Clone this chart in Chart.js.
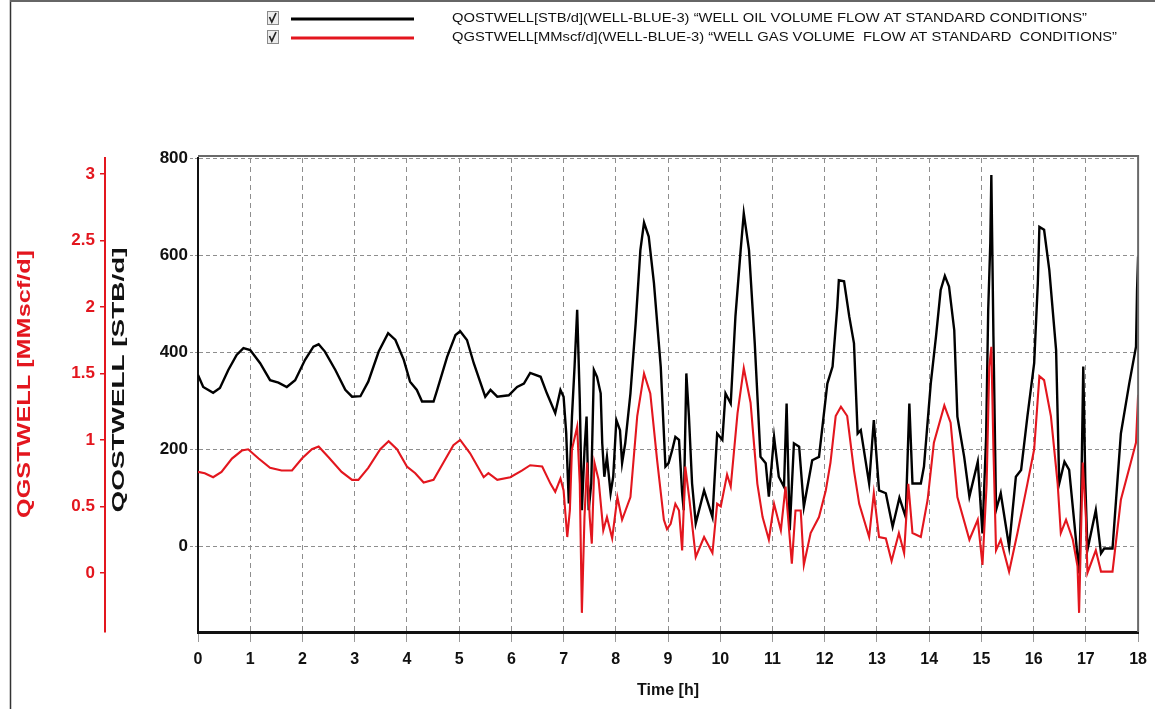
<!DOCTYPE html>
<html>
<head>
<meta charset="utf-8">
<title>Well oil and gas volume flow</title>
<style>
  html, body { margin: 0; padding: 0; background: #ffffff; }
  #wrap { width: 1155px; height: 709px; position: relative; }
  canvas { display: block; }
</style>
<script src="https://cdn.jsdelivr.net/npm/chart.js@4.4.1/dist/chart.umd.min.js"></script>
</head>
<body>
<div id="wrap"><canvas id="chart" width="1155" height="709"></canvas></div>
<script>
// ---- series: well oil rate (STB/d) ----
const oilHours = [
  0.00, 0.10, 0.29, 0.42, 0.58, 0.74, 0.87, 1.00, 1.19, 1.38, 1.54, 1.70, 1.86, 2.05, 2.21, 2.31,
  2.43, 2.63, 2.82, 2.95, 3.11, 3.26, 3.46, 3.64, 3.78, 3.94, 4.06, 4.19, 4.29, 4.51, 4.58, 4.77,
  4.93, 5.02, 5.15, 5.28, 5.50, 5.60, 5.73, 5.95, 6.11, 6.24, 6.36, 6.56, 6.68, 6.84, 6.94, 7.00,
  7.05, 7.10, 7.16, 7.21, 7.26, 7.31, 7.35, 7.40, 7.44, 7.48, 7.53, 7.58, 7.64, 7.71, 7.74, 7.78,
  7.83, 7.90, 7.95, 8.01, 8.08, 8.12, 8.18, 8.28, 8.38, 8.47, 8.54, 8.63, 8.73, 8.86, 8.95, 9.01,
  9.08, 9.14, 9.21, 9.27, 9.30, 9.35, 9.40, 9.46, 9.53, 9.69, 9.85, 9.94, 10.04, 10.10, 10.20, 10.29,
  10.39, 10.45, 10.55, 10.66, 10.77, 10.87, 10.93, 11.03, 11.12, 11.22, 11.27, 11.33, 11.41, 11.51, 11.60, 11.76,
  11.89, 12.05, 12.15, 12.24, 12.27, 12.37, 12.47, 12.56, 12.63, 12.69, 12.85, 12.94, 13.04, 13.17, 13.30, 13.43,
  13.55, 13.62, 13.68, 13.84, 13.90, 14.03, 14.13, 14.22, 14.30, 14.38, 14.48, 14.54, 14.67, 14.77, 14.93, 15.02,
  15.09, 15.13, 15.17, 15.19, 15.23, 15.28, 15.37, 15.53, 15.66, 15.76, 15.88, 16.01, 16.08, 16.11, 16.20, 16.30,
  16.43, 16.49, 16.59, 16.68, 16.78, 16.87, 16.91, 16.95, 16.99, 17.03, 17.19, 17.29, 17.35, 17.51, 17.67, 17.83,
  17.96, 17.98, 18.00
];
const oilRate = [
  353, 328, 316, 326, 363, 394, 408, 404, 377, 342, 337, 328, 342, 384, 411, 416,
  401, 363, 322, 308, 309, 339, 401, 439, 425, 384, 339, 322, 298, 298, 322, 390,
  435, 443, 425, 377, 308, 322, 308, 311, 328, 335, 357, 349, 315, 274, 322, 308,
  233, 88, 267, 370, 487, 301, 74, 198, 267, 74, 129, 363, 349, 315, 212, 143,
  184, 109, 143, 260, 239, 171, 212, 315, 459, 610, 667, 638, 542, 370, 164, 171,
  198, 225, 219, 109, 74, 356, 267, 129, 47, 115, 60, 232, 219, 315, 294, 473,
  610, 686, 610, 418, 184, 171, 102, 225, 143, 122, 294, 33, 212, 205, 81, 177,
  184, 335, 370, 493, 548, 546, 473, 418, 232, 239, 129, 260, 115, 109, 40, 100,
  60, 294, 129, 129, 164, 335, 432, 528, 557, 535, 445, 267, 184, 102, 174, 26,
  225, 487, 624, 765, 432, 74, 109, -1, 143, 157, 267, 377, 542, 658, 652, 569,
  404, 129, 174, 157, 47, -56, 95, 370, 129, -8, 74, -15, -5, -5, 232, 335,
  411, 528, 597
];

// ---- series: well gas rate (MMscf/d) ----
const gasHours = [
  0.00, 0.13, 0.29, 0.45, 0.65, 0.84, 0.96, 1.16, 1.38, 1.60, 1.80, 1.99, 2.18, 2.31, 2.50, 2.75,
  2.95, 3.07, 3.26, 3.49, 3.65, 3.81, 4.00, 4.16, 4.32, 4.51, 4.70, 4.89, 5.02, 5.21, 5.47, 5.56,
  5.73, 5.98, 6.20, 6.36, 6.59, 6.75, 6.84, 6.94, 7.00, 7.07, 7.12, 7.16, 7.26, 7.31, 7.35, 7.40,
  7.45, 7.50, 7.54, 7.59, 7.67, 7.76, 7.83, 7.93, 8.03, 8.12, 8.28, 8.41, 8.54, 8.66, 8.79, 8.92,
  8.98, 9.05, 9.14, 9.21, 9.27, 9.33, 9.41, 9.53, 9.69, 9.85, 9.94, 10.01, 10.13, 10.20, 10.33, 10.45,
  10.58, 10.71, 10.81, 10.93, 11.03, 11.16, 11.25, 11.37, 11.44, 11.54, 11.60, 11.73, 11.89, 12.02, 12.11, 12.21,
  12.31, 12.43, 12.56, 12.66, 12.85, 12.94, 13.04, 13.17, 13.28, 13.42, 13.52, 13.60, 13.68, 13.84, 13.97, 14.09,
  14.29, 14.41, 14.54, 14.77, 14.93, 15.02, 15.10, 15.15, 15.19, 15.23, 15.28, 15.37, 15.53, 15.69, 15.88, 16.01,
  16.11, 16.20, 16.33, 16.46, 16.52, 16.62, 16.75, 16.84, 16.87, 16.94, 17.00, 17.03, 17.19, 17.29, 17.51, 17.67,
  17.86, 17.96, 18.00
];
const gasRate = [
  0.76, 0.75, 0.72, 0.76, 0.86, 0.92, 0.93, 0.86, 0.79, 0.77, 0.77, 0.86, 0.93, 0.95, 0.87, 0.76,
  0.70, 0.70, 0.79, 0.93, 0.99, 0.93, 0.80, 0.75, 0.68, 0.70, 0.83, 0.96, 1.00, 0.90, 0.72, 0.75,
  0.70, 0.72, 0.77, 0.81, 0.80, 0.67, 0.61, 0.71, 0.62, 0.27, 0.47, 0.93, 1.10, 0.67, -0.30, 0.42,
  0.83, 0.42, 0.22, 0.83, 0.70, 0.32, 0.42, 0.26, 0.57, 0.40, 0.57, 1.18, 1.50, 1.35, 0.85, 0.40,
  0.33, 0.37, 0.52, 0.47, 0.17, 0.80, 0.55, 0.12, 0.27, 0.15, 0.52, 0.50, 0.74, 0.65, 1.20, 1.54,
  1.28, 0.67, 0.42, 0.25, 0.52, 0.32, 0.65, 0.07, 0.47, 0.47, 0.06, 0.30, 0.42, 0.62, 0.83, 1.18,
  1.25, 1.18, 0.77, 0.52, 0.27, 0.60, 0.27, 0.26, 0.09, 0.30, 0.15, 0.67, 0.30, 0.27, 0.55, 0.98,
  1.26, 1.13, 0.57, 0.25, 0.40, 0.06, 0.67, 1.55, 1.70, 0.93, 0.17, 0.25, 0.01, 0.30, 0.67, 0.93,
  1.48, 1.45, 1.18, 0.67, 0.30, 0.40, 0.25, 0.05, -0.30, 0.83, 0.42, 0.00, 0.17, 0.01, 0.01, 0.55,
  0.83, 0.98, 1.34
];

// ---- axis ticks and labels ----
const timeTicks = [0, 1, 2, 3, 4, 5, 6, 7, 8, 9, 10, 11, 12, 13, 14, 15, 16, 17, 18];
const oilTicks = [0, 200, 400, 600, 800];
const gasTicks = [0, 0.5, 1, 1.5, 2, 2.5, 3];
const seriesNames = [
  'QOSTWELL[STB/d](WELL-BLUE-3) \u201cWELL OIL VOLUME FLOW AT STANDARD CONDITIONS\u201d',
  'QGSTWELL[MMscf/d](WELL-BLUE-3) \u201cWELL GAS VOLUME  FLOW AT STANDARD  CONDITIONS\u201d'
];
const axisNames = { time: 'Time [h]', oil: 'QOSTWELL [STB/d]', gas: 'QGSTWELL [MMscf/d]' };

const RED = '#e3161e';
const INK = '#111111';
const GRID = '#8e8e8e';
const PLAIN = "'Liberation Sans', Arial, sans-serif";

const toPoints = (xs, ys) => xs.map((x, i) => ({ x: x, y: ys[i] }));

// draws text squeezed or stretched along its baseline to a given length
function fitText(ctx, text, x, y, length, angle) {
  const w = ctx.measureText(text).width;
  ctx.save();
  ctx.translate(x, y);
  if (angle) ctx.rotate(angle);
  ctx.scale(length / w, 1);
  ctx.fillText(text, 0, 0);
  ctx.restore();
}

// Frame, check-box legend and the long rotated y-axis titles
const decorations = {
  id: 'decorations',
  beforeDraw(chart) {
    const ctx = chart.ctx;
    ctx.save();
    ctx.fillStyle = '#ffffff';
    ctx.fillRect(0, 0, chart.width, chart.height);
    ctx.restore();
  },
  afterDraw(chart) {
    const { ctx, chartArea: a } = chart;
    ctx.save();

    // outer page rules
    ctx.strokeStyle = '#333';
    ctx.lineWidth = 1.5;
    ctx.beginPath();
    ctx.moveTo(10.5, 0); ctx.lineTo(10.5, chart.height);
    ctx.stroke();
    ctx.strokeStyle = '#666';
    ctx.lineWidth = 2;
    ctx.beginPath();
    ctx.moveTo(10, 1); ctx.lineTo(chart.width, 1);
    ctx.stroke();

    // top and right edges of the plot frame
    ctx.strokeStyle = '#6a6a6a';
    ctx.lineWidth = 2;
    ctx.beginPath();
    ctx.moveTo(a.left, a.top - 2); ctx.lineTo(a.right, a.top - 2); ctx.lineTo(a.right, a.bottom);
    ctx.stroke();

    // legend rows
    const textEnds = [1087, 1117];
    chart.data.datasets.forEach((ds, i) => {
      const y = 18 + i * 19;
      const bx = 267, by = y - 7;
      ctx.fillStyle = '#ececec';
      ctx.fillRect(bx, by, 12, 14);
      ctx.strokeStyle = '#8a8a8a';
      ctx.lineWidth = 1;
      ctx.strokeRect(bx + 0.5, by + 0.5, 11, 13);
      ctx.strokeStyle = '#222';
      ctx.lineWidth = 1.7;
      ctx.beginPath();
      ctx.moveTo(bx + 2.5, by + 6); ctx.lineTo(bx + 4.8, by + 11); ctx.lineTo(bx + 9, by + 2);
      ctx.stroke();

      ctx.strokeStyle = ds.borderColor;
      ctx.lineWidth = 3;
      ctx.beginPath();
      ctx.moveTo(291, y + 1); ctx.lineTo(414, y + 1);
      ctx.stroke();

      ctx.fillStyle = INK;
      ctx.font = '13.5px ' + PLAIN;
      ctx.textAlign = 'left';
      ctx.textBaseline = 'middle';
      fitText(ctx, ds.label, 452, y, textEnds[i] - 452, 0);
    });

    // rotated y-axis titles, drawn long and narrow
    const sc = chart.options.scales;
    ctx.textAlign = 'center';
    ctx.textBaseline = 'middle';
    ctx.font = 'bold 18px ' + PLAIN;
    ctx.fillStyle = RED;
    fitText(ctx, sc.gas.title.text, 25, 384, 268, -Math.PI / 2);
    ctx.font = 'bold 17px ' + PLAIN;
    ctx.fillStyle = INK;
    fitText(ctx, sc.oil.title.text, 119, 380, 265, -Math.PI / 2);

    ctx.restore();
  }
};

new Chart(document.getElementById('chart'), {
  type: 'line',
  data: {
    datasets: [
      {
        label: seriesNames[0],
        data: toPoints(oilHours, oilRate),
        yAxisID: 'oil',
        borderColor: '#000000',
        borderWidth: 2.4,
        pointRadius: 0,
        tension: 0,
        order: 2
      },
      {
        label: seriesNames[1],
        data: toPoints(gasHours, gasRate),
        yAxisID: 'gas',
        borderColor: RED,
        borderWidth: 2.1,
        pointRadius: 0,
        tension: 0,
        order: 1
      }
    ]
  },
  options: {
    responsive: false,
    animation: false,
    events: [],
    layout: { padding: { left: 0, right: 16, top: 158, bottom: 0 } },
    plugins: { legend: { display: false }, tooltip: { enabled: false } },
    scales: {
      x: {
        type: 'linear',
        position: 'bottom',
        min: 0,
        max: 18,
        afterBuildTicks: s => { s.ticks = timeTicks.map(v => ({ value: v })); },
        afterFit: s => { s.height = 77; },
        ticks: {
          color: INK,
          padding: 8,
          maxRotation: 0,
          autoSkip: false,
          font: { family: PLAIN, size: 16, weight: 'bold' }
        },
        grid: { color: GRID, lineWidth: 1, tickLength: 10, tickColor: '#9a9a9a', tickWidth: 1 },
        border: { color: INK, width: 3, dash: [5, 4] },
        title: {
          display: true,
          text: axisNames.time,
          color: INK,
          padding: { top: 0, bottom: 9 },
          font: { family: PLAIN, size: 16, weight: 'bold' }
        }
      },
      oil: {
        type: 'linear',
        position: 'left',
        weight: 0,
        min: -177,
        max: 800,
        afterBuildTicks: s => { s.ticks = oilTicks.map(v => ({ value: v })); },
        afterFit: s => { s.width = 93; },
        ticks: {
          color: INK,
          padding: 2,
          font: { family: PLAIN, size: 17, weight: 'bold' }
        },
        grid: { color: GRID, lineWidth: 1, tickLength: 8, tickColor: GRID, tickBorderDash: [3, 2] },
        border: { color: INK, width: 2, dash: [4, 3] },
        title: { display: false, text: axisNames.oil }
      },
      gas: {
        type: 'linear',
        position: 'left',
        weight: 1,
        min: -0.444,
        max: 3.12,
        afterBuildTicks: s => { s.ticks = gasTicks.map(v => ({ value: v })); },
        afterFit: s => { s.width = 105; },
        ticks: {
          color: RED,
          padding: 5,
          callback: v => String(v),
          font: { family: PLAIN, size: 17, weight: 'bold' }
        },
        grid: { drawOnChartArea: false, tickLength: 5, tickColor: RED, lineWidth: 1.5 },
        border: { color: RED, width: 2 },
        title: { display: false, text: axisNames.gas }
      }
    }
  },
  plugins: [decorations]
});
</script>
</body>
</html>
